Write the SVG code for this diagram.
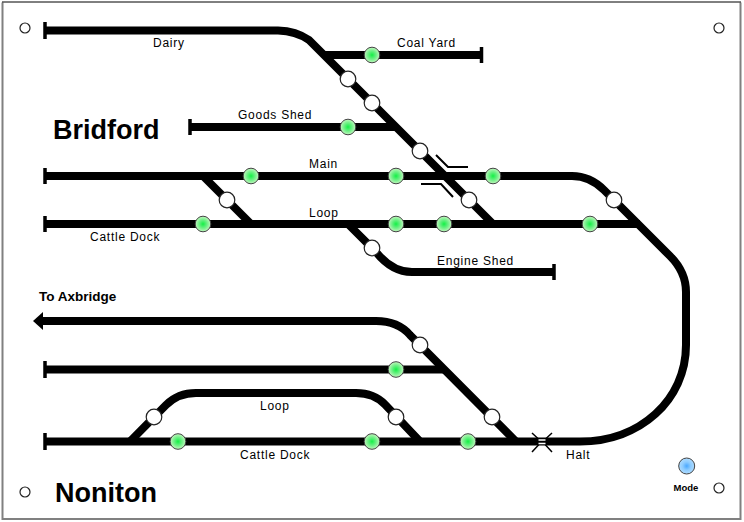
<svg xmlns="http://www.w3.org/2000/svg" width="744" height="522" viewBox="0 0 744 522">
<style>
text{font-family:"Liberation Sans",Arial,sans-serif;fill:#000}
.l{font-size:12px;letter-spacing:.75px}
.t{fill:none;stroke:#000;stroke-width:8}
.k{fill:none;stroke:#000;stroke-width:2}
.e{fill:none;stroke:#000;stroke-width:3.500}
.g{fill:url(#gr);stroke:#444;stroke-width:1}
.w{fill:#fff;stroke:#222;stroke-width:1.200}
.h{fill:#fff;stroke:#222;stroke-width:1.200}
</style>
<defs>
<radialGradient id="gr"><stop offset="0" stop-color="#14f046"/><stop offset=".55" stop-color="#72f088"/><stop offset="1" stop-color="#c4f6c0"/></radialGradient>
<radialGradient id="bl"><stop offset="0" stop-color="#4aa8ff"/><stop offset=".5" stop-color="#8ccbff"/><stop offset="1" stop-color="#b0dcff"/></radialGradient>
</defs>
<rect width="744" height="522" fill="#fff"/>
<path d="M2.500 2.500V519H740.500V2.500" fill="none" stroke="#808080" stroke-width="2"/>
<path d="M2 2H741" fill="none" stroke="#000" stroke-width="1"/>
<g id="connectors">
<path class="t" d="M45 30.500H278Q296 31 309 40L493 224"/>
<path class="t" d="M325 55H481"/>
<path class="t" d="M190 127H396"/>
<path class="t" d="M45 176H572Q590 176 604 190L670 256Q686 272 686 292V345C686 400 640 441.500 580 441.500H545"/>
<path class="t" d="M45 224H640"/>
<path class="t" d="M203 176L251 224"/>
<path class="t" d="M347 223L376 252Q392 272 412 272H554"/>
<path class="t" d="M42 321H376Q398 321 410 335L516 441.500"/>
<path class="t" d="M45 369.500H445"/>
<path class="t" d="M45 441.500H545"/>
<path class="t" d="M130 441.500L166 405Q178 393 196 393H356Q374 393 385 404.500L420 441.500"/>
<path d="M33 321L43 312V330Z"/>
<path class="e" d="M45 22V39M190 119V135M481.500 47V63M554 264V280M45 168V184M45 216V232M45 361V378M45 433V450"/>
<path class="k" d="M436 155L448 167H468M421 184H441L453 197"/>
<path d="M532 433L538.500 439V445L532 452M552 433L545.500 439V445L552 452" fill="none" stroke="#000" stroke-width="1.500"/>
<path d="M538.500 440H545.500M538.500 443.500H545.500" stroke="#fff" stroke-width="1.300"/>
</g>
<g id="sig-green">
<circle class="g" cx="372" cy="55" r="7.800"/><circle class="g" cx="348" cy="127" r="7.800"/>
<circle class="g" cx="251" cy="176" r="7.800"/><circle class="g" cx="396" cy="176" r="7.800"/><circle class="g" cx="493" cy="176" r="7.800"/>
<circle class="g" cx="203" cy="224" r="7.800"/><circle class="g" cx="396" cy="224" r="7.800"/><circle class="g" cx="444" cy="224" r="7.800"/><circle class="g" cx="590" cy="224" r="7.800"/>
<circle class="g" cx="396" cy="369.500" r="7.800"/>
<circle class="g" cx="178" cy="441.500" r="7.800"/><circle class="g" cx="372" cy="441.500" r="7.800"/><circle class="g" cx="468" cy="441.500" r="7.800"/>
</g>
<g id="sig-white">
<circle class="w" cx="348" cy="79" r="7.800"/><circle class="w" cx="372" cy="103" r="7.800"/><circle class="w" cx="420" cy="151" r="7.800"/><circle class="w" cx="469" cy="200" r="7.800"/>
<circle class="w" cx="227" cy="200" r="7.800"/><circle class="w" cx="372" cy="248" r="7.800"/><circle class="w" cx="614" cy="200" r="7.800"/>
<circle class="w" cx="420" cy="345" r="7.800"/><circle class="w" cx="492" cy="417" r="7.800"/><circle class="w" cx="154" cy="417" r="7.800"/><circle class="w" cx="396" cy="417" r="7.800"/>
</g>
<g id="holes">
<circle class="h" cx="25" cy="28" r="5"/><circle class="h" cx="719" cy="28" r="5"/><circle class="h" cx="25" cy="492" r="5"/><circle class="h" cx="719" cy="488" r="5"/>
</g>
<g id="mode">
<circle cx="686.700" cy="466" r="8" fill="url(#bl)" stroke="#444"/>
<text x="686" y="491" text-anchor="middle" font-size="9.500" font-weight="bold">Mode</text>
</g>
<g id="labels">
<text class="l" x="153" y="47">Dairy</text>
<text class="l" x="397" y="46.500">Coal Yard</text>
<text class="l" x="238" y="119">Goods Shed</text>
<text class="l" x="309" y="167.500">Main</text>
<text class="l" x="309" y="216.500">Loop</text>
<text class="l" x="90" y="240.500">Cattle Dock</text>
<text class="l" x="437" y="264.500">Engine Shed</text>
<text class="l" x="260" y="409.500">Loop</text>
<text class="l" x="240" y="458.500">Cattle Dock</text>
<text class="l" x="566" y="458.500">Halt</text>
<text x="39" y="301" font-size="13.500" font-weight="bold">To Axbridge</text>
<text x="53" y="139" font-size="27" font-weight="bold">Bridford</text>
<text x="55" y="502" font-size="27" font-weight="bold">Noniton</text>
</g>
</svg>
